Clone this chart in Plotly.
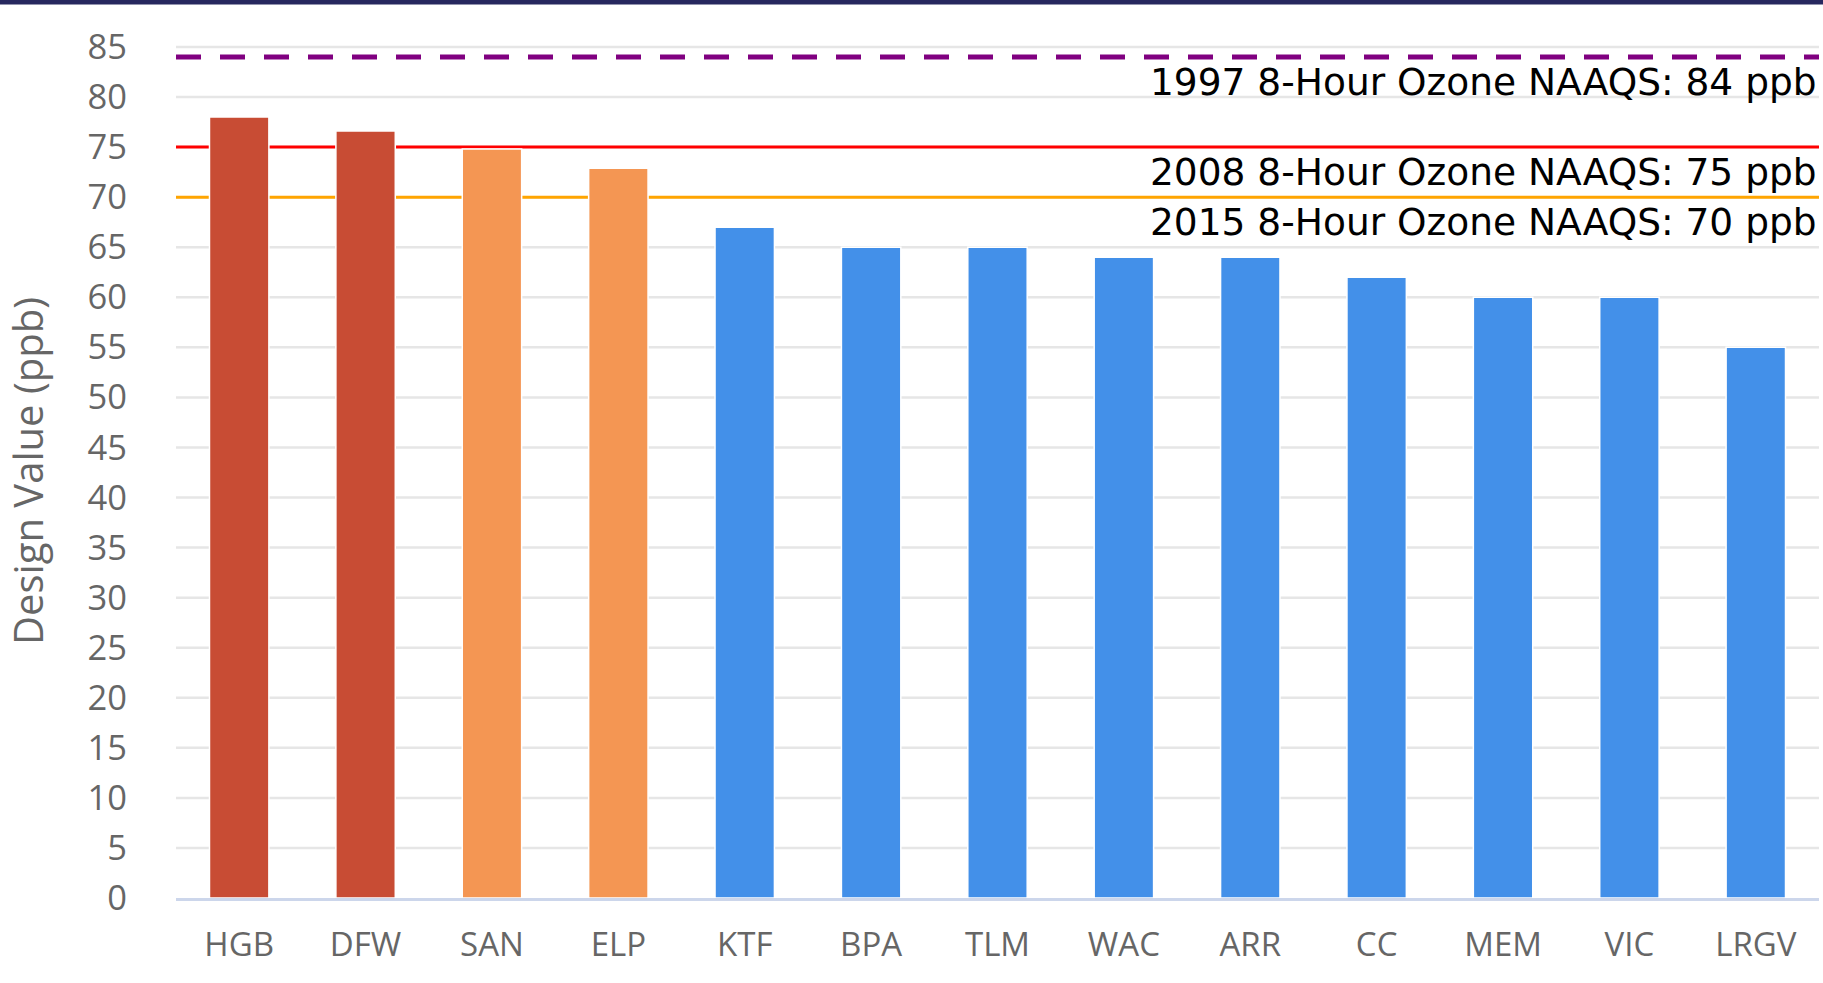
import plotly.graph_objects as go

categories = ["HGB", "DFW", "SAN", "ELP", "KTF", "BPA", "TLM", "WAC", "ARR", "CC", "MEM", "VIC", "LRGV"]
design_values = [78, 76.6, 74.8, 72.9, 67, 65, 65, 64, 64, 62, 60, 60, 55]
bar_colors = ["#c84c34", "#c84c34", "#f49653", "#f49653"] + ["#4390e9"] * 9

standard_values = [84, 75, 70]
standard_labels = ["1997 8-Hour Ozone NAAQS: 84 ppb",
                   "2008 8-Hour Ozone NAAQS: 75 ppb",
                   "2015 8-Hour Ozone NAAQS: 70 ppb"]
standard_colors = ["#800080", "#ff0000", "#ffa500"]
standard_widths = [5, 3, 3]
standard_dash = ["25px,19px", "solid", "solid"]

y_ticks = list(range(0, 90, 5))

fig = go.Figure()
fig.add_trace(go.Bar(
    x=categories, y=design_values,
    marker=dict(color=bar_colors, line=dict(color="#ffffff", width=1.5)),
    width=0.47, hoverinfo="x+y",
))

# gridlines drawn as shapes so the standard lines can sit on top of them
for t in y_ticks[1:]:
    fig.add_shape(type="line", xref="paper", x0=0, x1=1, yref="y", y0=t, y1=t,
                  line=dict(color="#e6e6e6", width=2.5), layer="below")

for v, lab, c, w, d in zip(standard_values, standard_labels, standard_colors, standard_widths, standard_dash):
    fig.add_shape(type="line", xref="paper", x0=0, x1=1, yref="y", y0=v, y1=v,
                  line=dict(color=c, width=w, dash=d), layer="below")
    fig.add_annotation(xref="paper", x=1, yref="y", y=v, text=lab, showarrow=False,
                       xanchor="right", yanchor="top", yshift=-1,
                       font=dict(family="DejaVu Sans", size=37.5, color="#000000"))

# top navy border
fig.add_shape(type="rect", xref="paper", x0=-0.2, x1=1.1, yref="paper", y0=1.0462, y1=1.07,
              line=dict(width=0), fillcolor="#27285f", layer="above")

fig.update_layout(
    width=1823, height=983,
    margin=dict(l=176, r=4, t=44, b=85, autoexpand=False),
    paper_bgcolor="#ffffff", plot_bgcolor="#ffffff",
    showlegend=False,
    font=dict(family="Open Sans", color="#666666"),
    xaxis=dict(
        type="category", range=[-0.5, 12.5], automargin=False,
        showgrid=False, showline=True, linecolor="#ccd6eb", linewidth=2.5,
        tickfont=dict(family="Open Sans", size=33, color="#666666"),
        ticks="", ticklabelstandoff=16,
    ),
    yaxis=dict(
        range=[0, 85.3], tickvals=y_ticks, automargin=False,
        showgrid=False, zeroline=False, showline=False,
        tickfont=dict(family="Open Sans", size=34.5, color="#666666"),
        ticks="", ticklabelstandoff=48,
        title=dict(text="Design Value (ppb)", font=dict(family="Open Sans", size=40, color="#666666"),
                   standoff=33),
    ),
)

fig.write_html("out.html", config={"displayModeBar": False},
               post_script="document.body.style.margin='0';document.body.style.padding='0';")
